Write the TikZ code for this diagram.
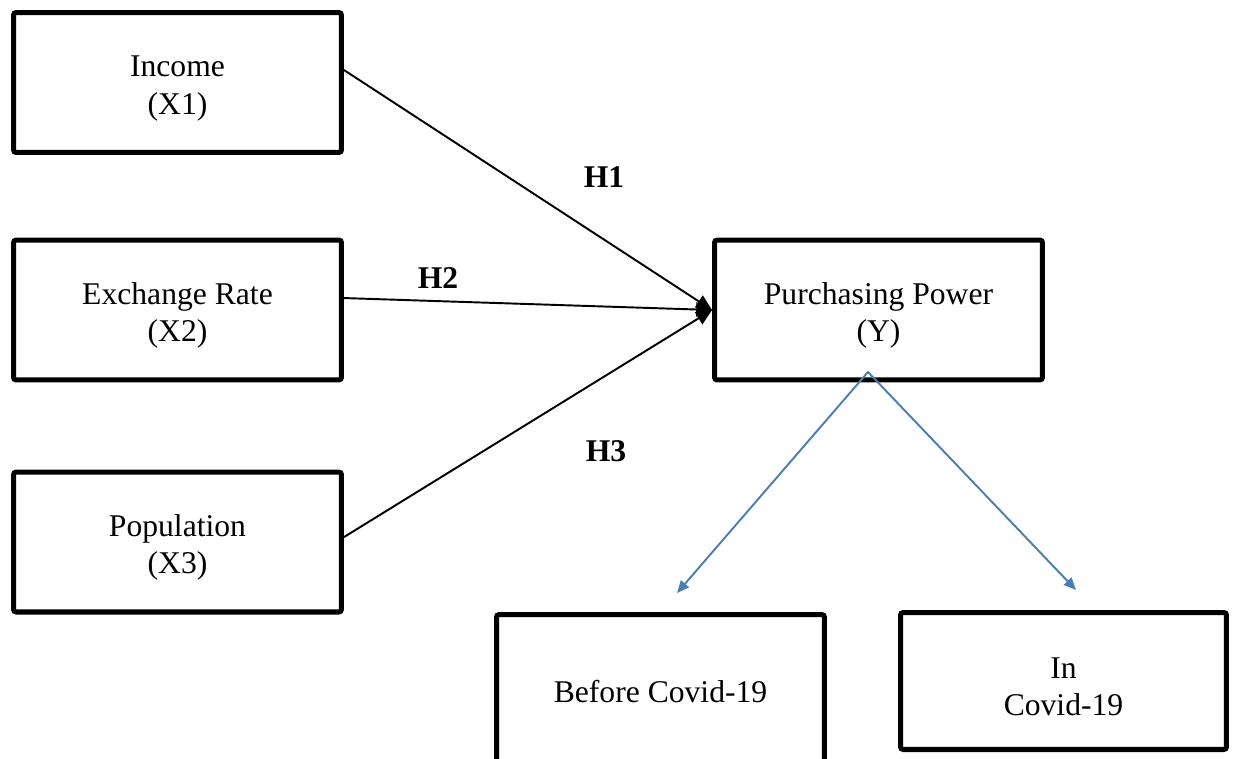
\documentclass[tikz,border=0pt]{standalone}
\usepackage{fontspec}
\setmainfont{Liberation Serif}
\usetikzlibrary{arrows.meta}
\definecolor{linkblue}{RGB}{74,126,187}
\newcommand{\boxstrut}{\rule{0pt}{18.5pt}}

\begin{document}
\begin{tikzpicture}[x=0.02cm, y=-0.02cm, every node/.style={font=\fontsize{18}{21.5}\selectfont}, box/.style={rectangle, draw, line width=2.85pt, rounded corners=1.5pt, minimum width=6.56cm, minimum height=2.8cm, align=center, inner sep=0pt}, link/.style={line width=1.1pt, -{Triangle[length=9pt,width=8pt]}}, split/.style={draw=linkblue, line width=1.1pt, line cap=round, -{Triangle[length=7pt,width=6pt]}}, hyp/.style={font=\fontsize{18}{21.5}\selectfont\bfseries}]
  \clip (0,0) rectangle (1237,758);
  % independent variables
  \node[box] (inc) at (177.5,82.5) {\boxstrut Income\\(X1)};
  \node[box] (exch) at (177.5,310) {\boxstrut Exchange Rate\\(X2)};
  \node[box] (pop) at (177.5,542) {\boxstrut Population\\(X3)};
  % dependent variable
  \node[box] (pp) at (878.5,310) {\boxstrut Purchasing Power\\(Y)};
  % periods
  \node[box, minimum height=3.1cm] (before) at (660.5,692) {Before Covid-19};
  \node[box, minimum width=6.52cm, minimum height=2.74cm] (during) at (1063.5,681) {\boxstrut In\\Covid-19};

  \draw[link] ([yshift=7.1pt]inc.east) -- (pp.west);
  \draw[link] ([yshift=6.8pt]exch.east) -- (pp.west);
  \draw[link] ([yshift=2.8pt]pop.east) -- (pp.west);

  \node[hyp] (h1) at (604,177) {H1};
  \node[hyp] (h2) at (438,278) {H2};
  \node[hyp] (h3) at (606,451) {H3};

  \coordinate (apex) at (868,372);
  \coordinate (lefttip) at (677,593);
  \coordinate (righttip) at (1076,590);
  \draw[split] (apex) -- (lefttip);
  \draw[split] (apex) -- (righttip);
\end{tikzpicture}
\end{document}
